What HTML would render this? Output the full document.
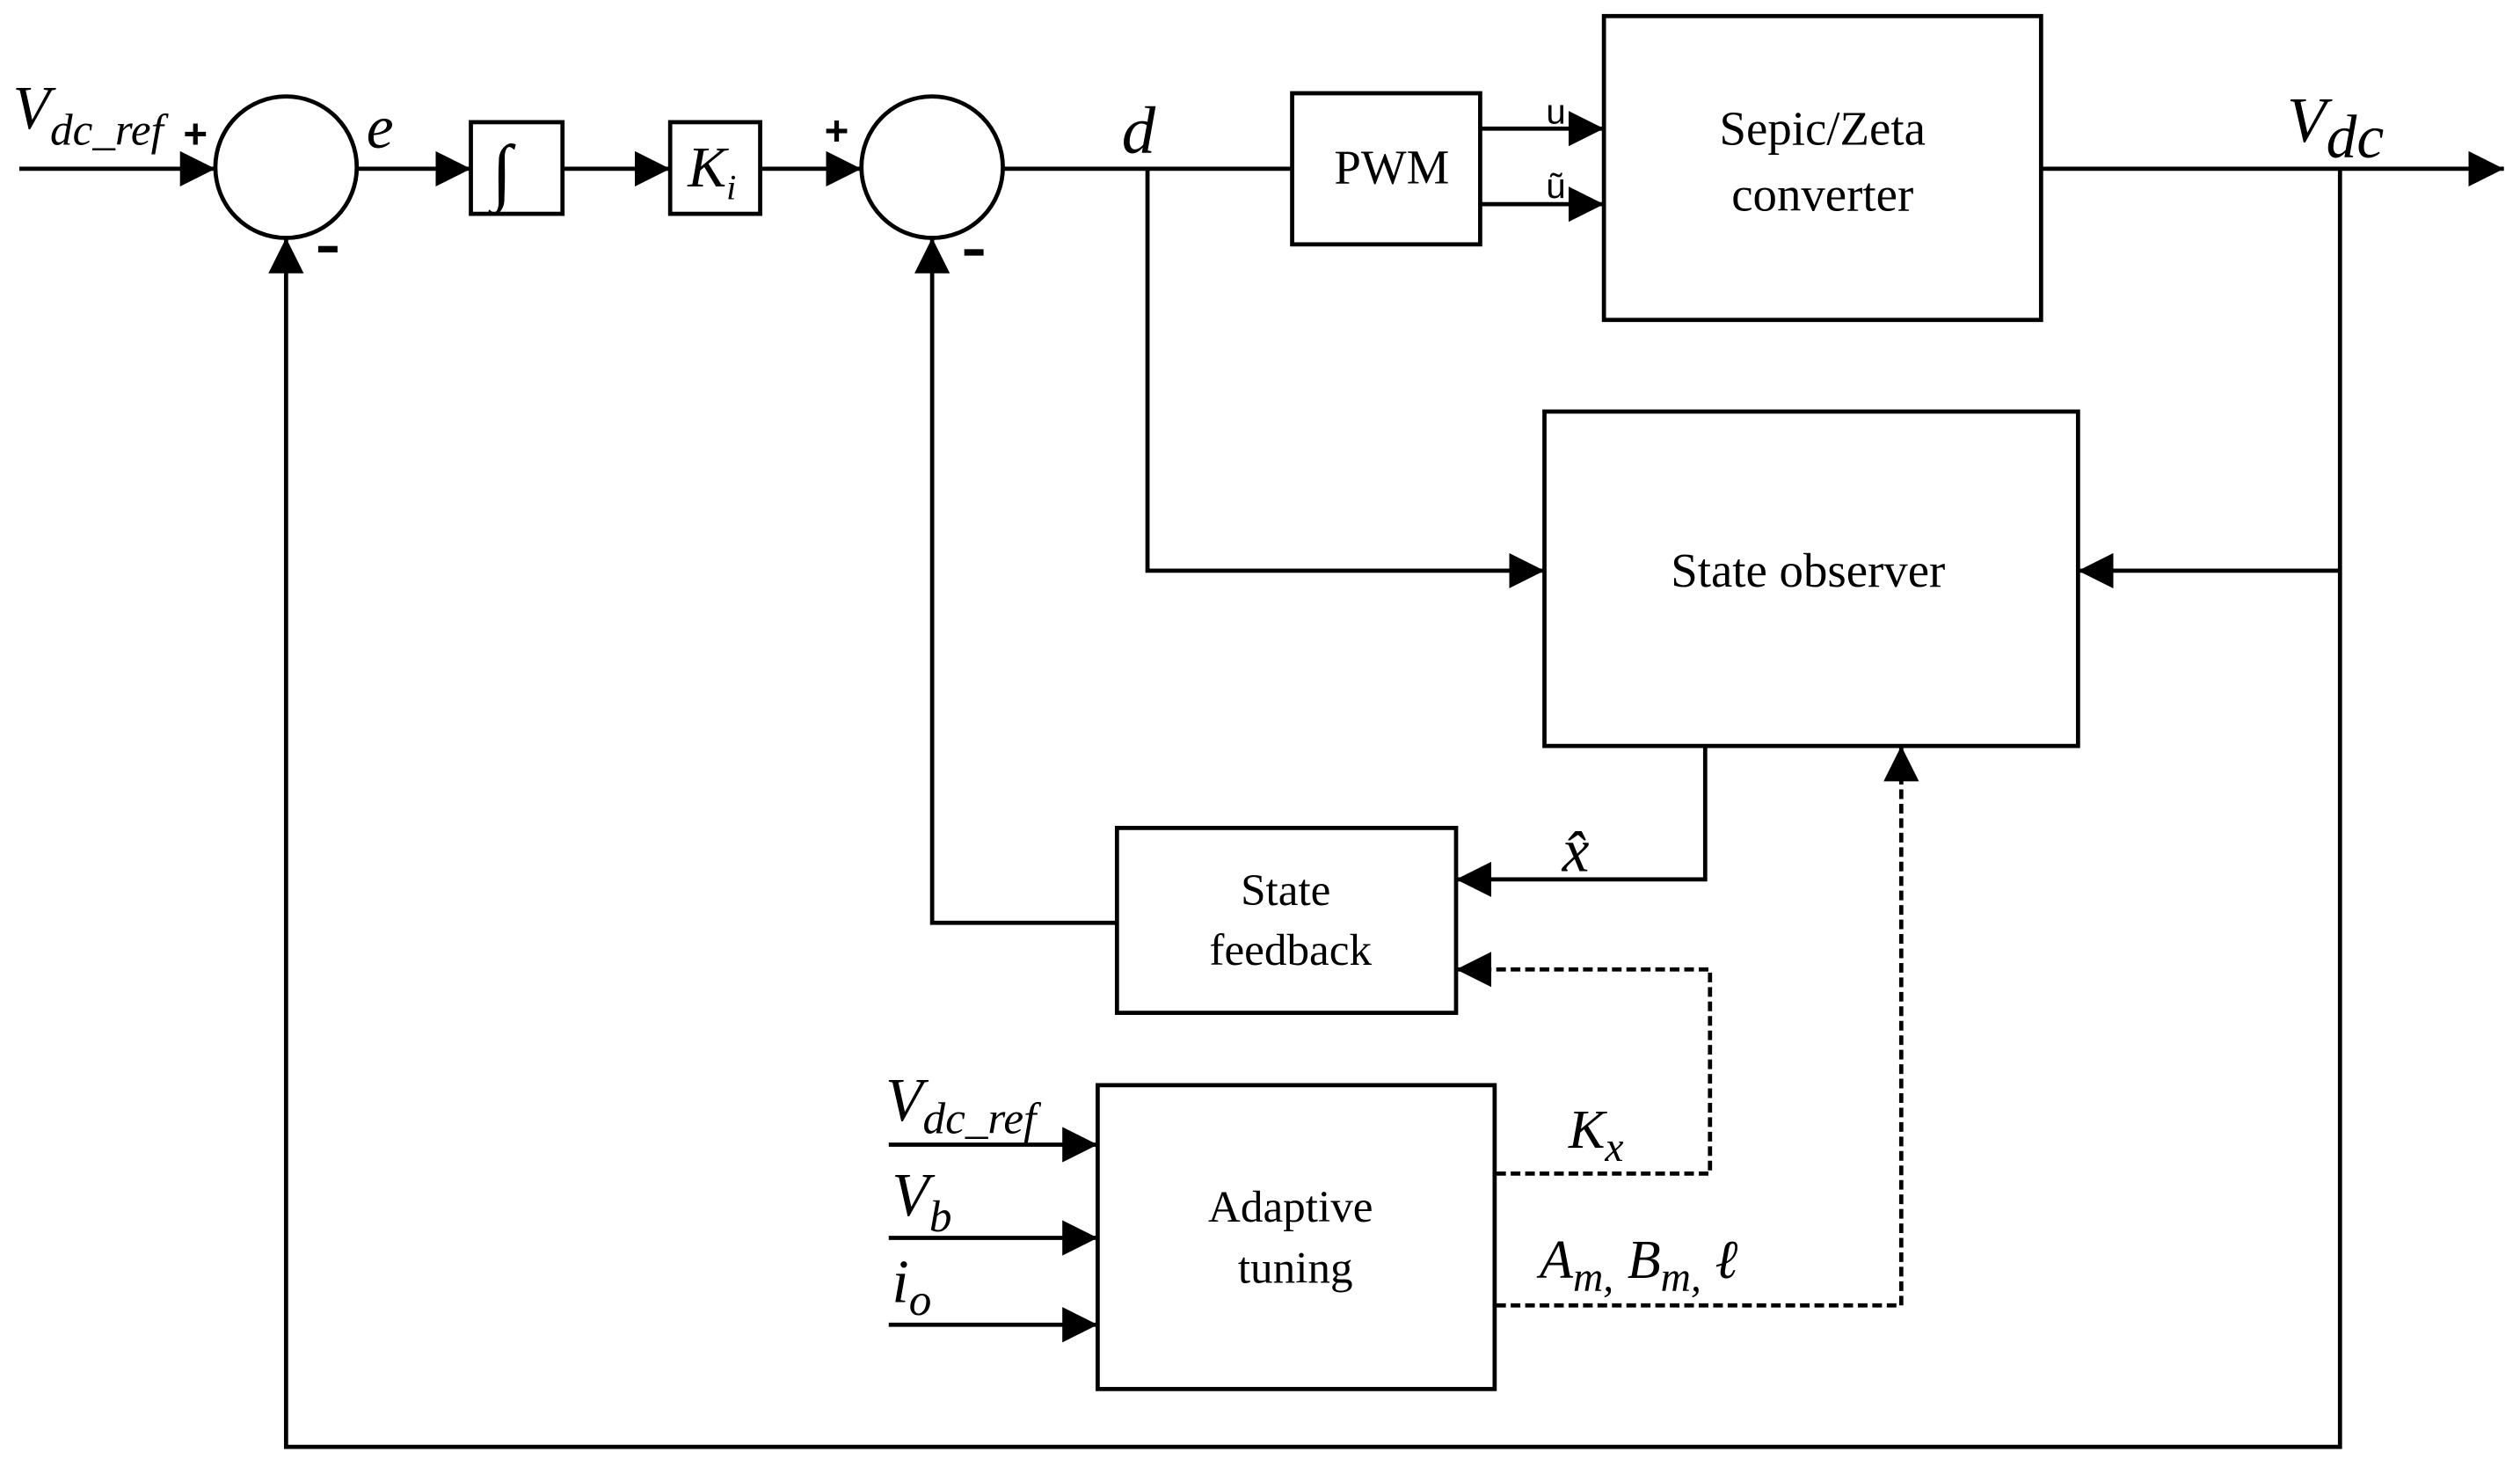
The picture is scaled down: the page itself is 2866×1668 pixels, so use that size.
<!DOCTYPE html>
<html><head><meta charset="utf-8"><style>
html,body{margin:0;padding:0;background:#fff;}
svg{display:block;}
text{font-family:"Liberation Serif",serif;fill:#000;}
.i{font-style:italic;}
.s{font-family:"Liberation Sans",sans-serif;}
.b{font-family:"Liberation Sans",sans-serif;font-weight:bold;}
</style></head><body>
<svg width="2866" height="1668" viewBox="0 0 1568 912.5" preserveAspectRatio="none" xmlns="http://www.w3.org/2000/svg">
<defs>
<marker id="a" viewBox="0 0 10 10" refX="10" refY="5" markerWidth="22" markerHeight="22" markerUnits="userSpaceOnUse" orient="auto"><path d="M0,0 L10,5 L0,10 z" fill="#000"/></marker>
</defs>
<g stroke="#000" stroke-width="2.6" fill="none">
<line x1="12" y1="105" x2="134" y2="105" marker-end="url(#a)"/>
<circle cx="178" cy="104" r="44"/>
<line x1="222" y1="105" x2="293" y2="105" marker-end="url(#a)"/>
<rect x="293" y="76" width="57" height="57"/>
<line x1="350" y1="105" x2="417" y2="105" marker-end="url(#a)"/>
<rect x="417" y="76" width="56" height="57"/>
<line x1="473" y1="105" x2="536" y2="105" marker-end="url(#a)"/>
<circle cx="580" cy="104" r="44"/>
<line x1="624" y1="105" x2="804" y2="105"/>
<rect x="804" y="58" width="117" height="94"/>
<line x1="921" y1="80" x2="998" y2="80" marker-end="url(#a)"/>
<line x1="921" y1="127" x2="998" y2="127" marker-end="url(#a)"/>
<rect x="998" y="10" width="272" height="189"/>
<line x1="1270" y1="105" x2="1558" y2="105" marker-end="url(#a)"/>
<polyline points="714,105 714,355 961,355" marker-end="url(#a)"/>
<rect x="961" y="256" width="332" height="208"/>
<polyline points="1456,105 1456,900 178,900 178,148" marker-end="url(#a)"/>
<line x1="1456" y1="355" x2="1293" y2="355" marker-end="url(#a)"/>
<polyline points="1061,464 1061,547 906,547" marker-end="url(#a)"/>
<rect x="695" y="515" width="211" height="115"/>
<polyline points="695,574 580,574 580,148" marker-end="url(#a)"/>
<rect x="683" y="675" width="247" height="189"/>
<line x1="553" y1="712" x2="683" y2="712" marker-end="url(#a)"/>
<line x1="553" y1="770" x2="683" y2="770" marker-end="url(#a)"/>
<line x1="553" y1="824" x2="683" y2="824" marker-end="url(#a)"/>
<g stroke-dasharray="6,3">
<polyline points="931,730 1064,730 1064,603 906,603" marker-end="url(#a)"/>
<polyline points="931,812 1183,812 1183,464" marker-end="url(#a)"/>
</g>
</g>
<text class="i" x="8" y="80" font-size="38">V<tspan font-size="28" dy="10">dc_ref</tspan></text>
<text class="b" x="114" y="92" font-size="26">+</text>
<rect x="198" y="153" width="12" height="4" fill="#000"/>
<text class="i" x="228" y="92" font-size="38">e</text>
<text class="i" x="306" y="122" font-size="46">∫</text>
<text class="i" x="428" y="116" font-size="36">K<tspan font-size="22" dy="8">i</tspan></text>
<text class="b" x="513" y="90" font-size="26">+</text>
<rect x="600" y="155" width="12" height="4" fill="#000"/>
<text class="i" x="698" y="95" font-size="42">d</text>
<text x="866" y="114" font-size="30" text-anchor="middle">PWM</text>
<text class="s" x="962" y="77" font-size="22">u</text>
<text class="s" x="962" y="123" font-size="22">ũ</text>
<text x="1134" y="90" font-size="30" text-anchor="middle">Sepic/Zeta</text>
<text x="1134" y="131" font-size="30" text-anchor="middle">converter</text>
<text class="i" x="1423" y="88" font-size="40">V<tspan font-size="38" dy="10">dc</tspan></text>
<text x="1125" y="365" font-size="30" text-anchor="middle">State observer</text>
<text class="i" x="972" y="542" font-size="38">x̂</text>
<text x="800" y="563" font-size="28" text-anchor="middle">State</text>
<text x="803" y="600" font-size="28" text-anchor="middle">feedback</text>
<text x="803" y="760" font-size="28" text-anchor="middle">Adaptive</text>
<text x="806" y="798" font-size="28" text-anchor="middle">tuning</text>
<text class="i" x="976" y="714" font-size="34">K<tspan font-size="26" dy="8">x</tspan></text>
<text class="i" x="958" y="795" font-size="34">A<tspan font-size="26" dy="8">m,</tspan><tspan dy="-8"> B</tspan><tspan font-size="26" dy="8">m,</tspan><tspan dy="-8"> ℓ</tspan></text>
<text class="i" x="551" y="697" font-size="38">V<tspan font-size="28" dy="8">dc_ref</tspan></text>
<text class="i" x="555" y="756" font-size="38">V<tspan font-size="28" dy="10">b</tspan></text>
<text class="i" x="555" y="810" font-size="38">i<tspan font-size="28" dy="8">o</tspan></text>
</svg>
</body></html>
